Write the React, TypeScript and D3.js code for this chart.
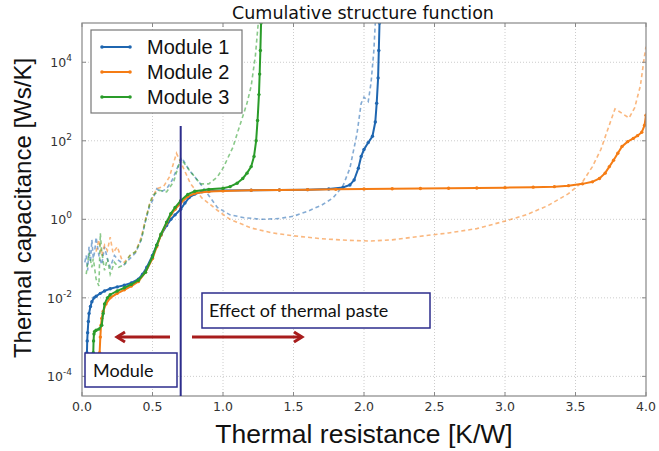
import React from 'react';
import * as d3 from 'd3';

// cumulative structure function, solid lines with dots
const m1X = [0.035, 0.037, 0.04, 0.045, 0.05, 0.06, 0.07, 0.085, 0.1, 0.13, 0.16, 0.2, 0.25, 0.3, 0.35, 0.4, 0.43, 0.46, 0.5, 0.53, 0.56, 0.6, 0.63, 0.66, 0.7, 0.73, 0.76, 0.8, 0.85, 0.9, 1.0, 1.2, 1.4, 1.6, 1.75, 1.85, 1.9, 1.93, 1.96, 1.98, 2.0, 2.03, 2.06, 2.08, 2.09, 2.1, 2.105, 2.11];
const m1Y = [4e-4, 8e-4, 1.3e-3, 2.5e-3, 4e-3, 6e-3, 8e-3, 1e-2, 1.1e-2, 1.3e-2, 1.5e-2, 1.7e-2, 1.9e-2, 2.1e-2, 2.4e-2, 3e-2, 4e-2, 6e-2, 0.12, 0.22, 0.4, 0.7, 1.0, 1.3, 1.8, 2.6, 3.6, 4.4, 5.0, 5.2, 5.4, 5.5, 5.6, 5.7, 5.9, 6.5, 7.5, 10, 20, 40, 60, 90, 130, 300, 900, 4000, 2e4, 1e5];

const m2X = [0.125, 0.13, 0.135, 0.14, 0.15, 0.17, 0.2, 0.25, 0.3, 0.35, 0.4, 0.45, 0.5, 0.53, 0.56, 0.6, 0.63, 0.66, 0.7, 0.75, 0.8, 0.9, 1.0, 1.2, 1.4, 1.6, 1.8, 2.0, 2.2, 2.4, 2.6, 2.8, 3.0, 3.2, 3.35, 3.45, 3.55, 3.62, 3.67, 3.71, 3.74, 3.77, 3.8, 3.83, 3.87, 3.91, 3.94, 3.97, 3.99, 4.0];
const m2Y = [4e-4, 1e-3, 2e-3, 3e-3, 4.5e-3, 7e-3, 1e-2, 1.3e-2, 1.6e-2, 2e-2, 2.6e-2, 4.5e-2, 0.1, 0.2, 0.4, 0.8, 1.3, 1.8, 2.6, 3.8, 4.6, 5.1, 5.3, 5.5, 5.6, 5.7, 5.8, 5.9, 6.0, 6.1, 6.2, 6.3, 6.4, 6.6, 6.8, 7.2, 8, 9, 11, 15, 22, 32, 48, 72, 95, 115, 135, 165, 250, 450];

const m3X = [0.08, 0.082, 0.085, 0.09, 0.1, 0.12, 0.14, 0.15, 0.16, 0.18, 0.2, 0.25, 0.3, 0.35, 0.4, 0.45, 0.5, 0.53, 0.56, 0.6, 0.63, 0.66, 0.7, 0.75, 0.8, 0.9, 1.0, 1.05, 1.1, 1.14, 1.17, 1.2, 1.22, 1.235, 1.245, 1.255, 1.26, 1.265, 1.27];
const m3Y = [4e-4, 8e-4, 1.2e-3, 1.4e-3, 1.5e-3, 1.6e-3, 2e-3, 4e-3, 7e-3, 1e-2, 1.2e-2, 1.5e-2, 1.8e-2, 2.2e-2, 2.8e-2, 4.5e-2, 0.11, 0.22, 0.42, 0.85, 1.4, 2.0, 3.0, 4.3, 5.2, 5.8, 6.2, 6.8, 8.3, 11, 15, 22, 40, 100, 330, 1500, 5000, 2e4, 1e5];

// differential structure function, dashed lines
const d1X = [0.02, 0.03, 0.04, 0.05, 0.06, 0.07, 0.08, 0.09, 0.1, 0.12, 0.14, 0.16, 0.18, 0.2, 0.23, 0.26, 0.3, 0.34, 0.38, 0.42, 0.45, 0.48, 0.5, 0.53, 0.56, 0.6, 0.64, 0.68, 0.71, 0.76, 0.84, 0.9, 0.96, 1.05, 1.15, 1.28, 1.4, 1.5, 1.6, 1.7, 1.78, 1.85, 1.9, 1.95, 1.98, 2.0, 2.03, 2.05, 2.07, 2.08];
const d1Y = [0.08, 0.12, 0.05, 0.2, 0.08, 0.3, 0.1, 0.15, 0.35, 0.12, 0.07, 0.2, 0.1, 0.06, 0.12, 0.09, 0.07, 0.1, 0.14, 0.3, 0.9, 2.2, 3, 6, 5, 6, 10, 22, 36, 18, 8, 4, 2, 1.3, 1.1, 1.0, 1.05, 1.2, 1.6, 2.3, 3.5, 7, 20, 150, 900, 1300, 1000, 3000, 2e4, 1e5];

const d2X = [0.1, 0.12, 0.14, 0.16, 0.18, 0.2, 0.22, 0.25, 0.28, 0.3, 0.34, 0.38, 0.42, 0.45, 0.48, 0.53, 0.58, 0.62, 0.67, 0.72, 0.77, 0.85, 0.96, 1.05, 1.2, 1.35, 1.5, 1.7, 1.9, 2.05, 2.2, 2.4, 2.6, 2.8, 3.0, 3.15, 3.3, 3.45, 3.55, 3.62, 3.68, 3.73, 3.78, 3.83, 3.88, 3.92, 3.96, 3.99, 4.0];
const d2Y = [0.15, 0.3, 0.12, 0.22, 0.16, 0.35, 0.14, 0.2, 0.1, 0.08, 0.12, 0.15, 0.35, 1.0, 2.5, 6, 7, 12, 48, 20, 8, 3.5, 1.7, 1.0, 0.6, 0.45, 0.38, 0.32, 0.29, 0.28, 0.3, 0.37, 0.45, 0.58, 0.9, 1.3, 2.2, 4.5, 9, 22, 60, 200, 650, 500, 380, 700, 2500, 1.5e4, 2.5e4];

const d3X = [0.03, 0.05, 0.07, 0.08, 0.1, 0.12, 0.13, 0.14, 0.16, 0.18, 0.2, 0.23, 0.26, 0.3, 0.34, 0.38, 0.42, 0.45, 0.48, 0.5, 0.55, 0.6, 0.65, 0.7, 0.76, 0.84, 0.9, 0.96, 1.0, 1.07, 1.12, 1.17, 1.2, 1.23, 1.25];
const d3Y = [0.04, 0.14, 0.06, 0.1, 0.03, 0.02, 0.44, 0.15, 0.05, 0.1, 0.04, 0.08, 0.06, 0.07, 0.12, 0.15, 0.3, 0.9, 2.5, 4, 5.5, 5, 9, 36, 18, 8, 8, 12, 20, 68, 250, 900, 2500, 1.5e4, 1e5];

const seriesNames = ['Module 1', 'Module 2', 'Module 3'];
const colors = ['#1f66b0', '#f57c14', '#2a9c2a'];
const xTicks = [0, 0.5, 1, 1.5, 2, 2.5, 3, 3.5, 4];
const yExps = [-4, -2, 0, 2, 4];

const W = 659, H = 451;
const m = { top: 23, right: 13, bottom: 55, left: 82 };

export default function App() {
  const x = d3.scaleLinear().domain([0, 4]).range([m.left, W - m.right]);
  const y = d3.scaleLog().domain([Math.pow(10, -4.5), 1e5]).range([H - m.bottom, m.top]);
  const line = d3.line<[number, number]>().x(d => x(d[0])).y(d => y(d[1]));

  const solids = [[m1X, m1Y], [m2X, m2Y], [m3X, m3Y]].map(([xs, ys]) => xs.map((v, i) => [v, ys[i]] as [number, number]));
  const dashes = [[d1X, d1Y], [d2X, d2Y], [d3X, d3Y]].map(([xs, ys]) => xs.map((v, i) => [v, ys[i]] as [number, number]));

  const x0 = x(0), x1 = x(4), yT = y(1e5), yB = y(Math.pow(10, -4.5));
  const navy = '#2d2d8c';
  const red = '#a81c1c';
  const sans = '"Liberation Sans", Arial, sans-serif';
  const dv = '"DejaVu Sans", sans-serif';
  const gill = 'Lato, "Open Sans", sans-serif';

  return (
    <svg width={W} height={H} style={{ position: 'absolute', left: 0, top: 0, background: '#fff' }}>
      <defs>
        <clipPath id="plot">
          <rect x={x0} y={yT} width={x1 - x0} height={yB - yT} />
        </clipPath>
      </defs>
      <text x={363} y={19} textAnchor="middle" fontFamily={dv} fontSize={17.5} fill="#111">Cumulative structure function</text>

      {/* grid */}
      {xTicks.slice(1, -1).map(t => (
        <line key={'gx' + t} x1={x(t)} x2={x(t)} y1={yT} y2={yB} stroke="#ccc" strokeDasharray="1,2" />
      ))}
      {yExps.map(e => (
        <line key={'gy' + e} x1={x0} x2={x1} y1={y(Math.pow(10, e))} y2={y(Math.pow(10, e))} stroke="#ccc" strokeDasharray="1,2" />
      ))}

      <g clipPath="url(#plot)">
        {dashes.map((d, i) => (
          <path key={'d' + i} d={line(d) || ''} fill="none" stroke={colors[i]} strokeWidth={1.6} strokeOpacity={0.55} strokeDasharray="4,3" />
        ))}
        {solids.map((d, i) => (
          <g key={'s' + i}>
            <path d={line(d) || ''} fill="none" stroke={colors[i]} strokeWidth={2} />
            {d.map((p, j) => (
              <circle key={j} cx={x(p[0])} cy={y(p[1])} r={1.7} fill={colors[i]} />
            ))}
          </g>
        ))}
      </g>

      {/* frame */}
      <rect x={x0} y={yT} width={x1 - x0} height={yB - yT} fill="none" stroke="#888" strokeWidth={1.2} />
      {xTicks.map(t => (
        <g key={'xt' + t}>
          <line x1={x(t)} x2={x(t)} y1={yB} y2={yB - 4} stroke="#888" />
          <line x1={x(t)} x2={x(t)} y1={yT} y2={yT + 4} stroke="#888" />
          <text x={x(t)} y={yB + 15} textAnchor="middle" fontFamily={dv} fontSize={12.5} fill="#333">{t.toFixed(1)}</text>
        </g>
      ))}
      {yExps.map(e => (
        <g key={'yt' + e}>
          <line x1={x0} x2={x0 + 4} y1={y(Math.pow(10, e))} y2={y(Math.pow(10, e))} stroke="#888" />
          <line x1={x1} x2={x1 - 4} y1={y(Math.pow(10, e))} y2={y(Math.pow(10, e))} stroke="#888" />
          <text x={x0 - 10} y={y(Math.pow(10, e)) + 5} textAnchor="end" fontFamily={dv} fontSize={12.5} fill="#333">
            10<tspan dy={-6} fontSize={9}>{e}</tspan>
          </text>
        </g>
      ))}

      <text x={364} y={443} textAnchor="middle" fontFamily={sans} fontSize={26.5} fill="#111">Thermal resistance [K/W]</text>
      <text transform="translate(31,208) rotate(-90)" textAnchor="middle" fontFamily={sans} fontSize={24} fill="#111">Thermal capacitance [Ws/K]</text>

      {/* legend */}
      <rect x={91} y={30} width={151} height={83} fill="#fff" stroke="#777" strokeWidth={1.2} />
      {seriesNames.map((s, i) => (
        <g key={s}>
          <line x1={102} x2={130} y1={47 + i * 25} y2={47 + i * 25} stroke={colors[i]} strokeWidth={2} />
          <circle cx={102} cy={47 + i * 25} r={1.8} fill={colors[i]} />
          <circle cx={130} cy={47 + i * 25} r={1.8} fill={colors[i]} />
          <text x={147} y={54 + i * 25} fontFamily={sans} fontSize={20} fill="#111">{s}</text>
        </g>
      ))}

      {/* annotation */}
      <line x1={x(0.7)} x2={x(0.7)} y1={126} y2={yB} stroke={navy} strokeWidth={2} />
      <rect x={85} y={353} width={92} height={34} fill="#fff" stroke={navy} strokeWidth={1.5} />
      <text x={93} y={377} fontFamily={gill} fontSize={18} fill="#111">Module</text>
      <rect x={202} y={293} width={228} height={35} fill="#fff" stroke={navy} strokeWidth={1.5} />
      <text x={209} y={317} fontFamily={gill} fontSize={18} fill="#111">Effect of thermal paste</text>
      <g stroke={red} strokeWidth={3} fill="none">
        <line x1={117} x2={170} y1={337} y2={337} />
        <polyline points="125,332 117,337 125,342" />
        <line x1={192} x2={302} y1={337} y2={337} />
        <polyline points="294,332 302,337 294,342" />
      </g>
    </svg>
  );
}
